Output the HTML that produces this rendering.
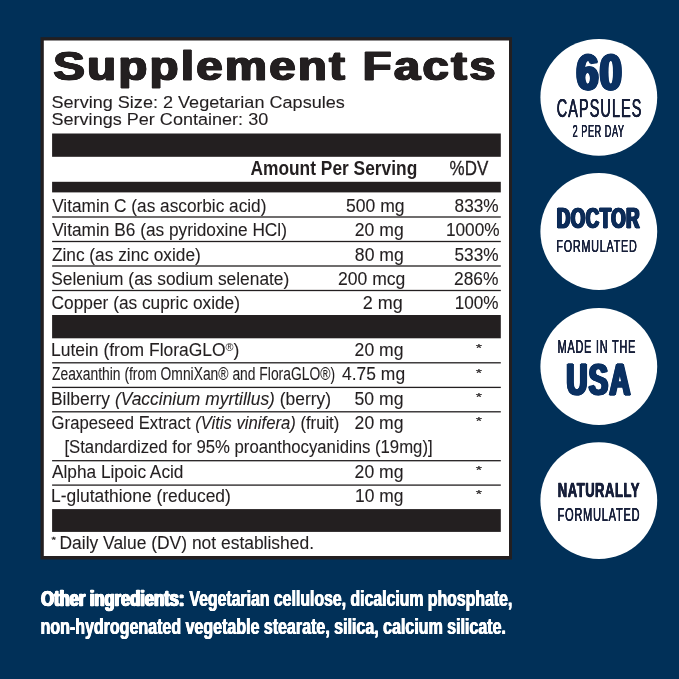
<!DOCTYPE html>
<html lang="en"><head><meta charset="utf-8"><title>Supplement Facts</title>
<style>
html,body{margin:0;padding:0}
.r{position:absolute}
.t{position:absolute;left:0;top:0;white-space:nowrap;line-height:1;margin:0;transform-origin:0 0}
.reg{font-size:.62em;vertical-align:.42em;line-height:0;-webkit-text-stroke:0}
i{font-style:italic}
body{width:679px;height:679px;overflow:hidden;background:#013058;position:relative;font-family:"Liberation Sans",Arial,Helvetica,sans-serif}
</style></head><body>
<svg class="r" style="left:0;top:0" width="679" height="679" viewBox="0 0 679 679">
<rect x="40.50" y="37.20" width="471.50" height="522.30" fill="#231f20"/>
<rect x="43.80" y="40.50" width="465.20" height="515.50" fill="#fff"/>
<rect x="52.10" y="133.50" width="448.70" height="23.30" fill="#231f20"/>
<rect x="52.10" y="181.80" width="448.70" height="10.60" fill="#231f20"/>
<rect x="52.10" y="315.00" width="448.70" height="23.30" fill="#231f20"/>
<rect x="52.10" y="509.10" width="448.70" height="22.80" fill="#231f20"/>
<rect x="52.10" y="216.35" width="448.70" height="1.30" fill="#231f20"/>
<rect x="52.10" y="240.85" width="448.70" height="1.30" fill="#231f20"/>
<rect x="52.10" y="265.35" width="448.70" height="1.30" fill="#231f20"/>
<rect x="52.10" y="289.85" width="448.70" height="1.30" fill="#231f20"/>
<rect x="52.10" y="362.15" width="448.70" height="1.30" fill="#231f20"/>
<rect x="52.10" y="386.75" width="448.70" height="1.30" fill="#231f20"/>
<rect x="52.10" y="411.15" width="448.70" height="1.30" fill="#231f20"/>
<rect x="52.10" y="460.05" width="448.70" height="1.30" fill="#231f20"/>
<rect x="52.10" y="484.45" width="448.70" height="1.30" fill="#231f20"/>
<circle cx="598.8" cy="97.3" r="58.4" fill="#fff"/>
<circle cx="598.8" cy="231.5" r="58.4" fill="#fff"/>
<circle cx="598.8" cy="366.5" r="58.4" fill="#fff"/>
<circle cx="598.8" cy="500.6" r="58.4" fill="#fff"/>
</svg>
<section aria-label="Supplement Facts panel">
<div class="t" style="font-size:41.13px;font-weight:bold;letter-spacing:2.06px;color:#231f20;-webkit-text-stroke:1.1px #231f20;transform:translate(53.32px,46.00px) scaleX(1.1483);text-shadow:0.32px 0 0 #231f20,-0.32px 0 0 #231f20,0.64px 0 0 #231f20,-0.64px 0 0 #231f20,0.96px 0 0 #231f20,-0.96px 0 0 #231f20;">Supplement Facts</div>
<div class="t" style="font-size:17.01px;color:#231f20;-webkit-text-stroke:0.1px #231f20;transform:translate(51.51px,94.00px) scaleX(1.0629);">Serving Size: 2 Vegetarian Capsules</div>
<div class="t" style="font-size:17.01px;color:#231f20;-webkit-text-stroke:0.1px #231f20;transform:translate(51.51px,111.00px) scaleX(1.0617);">Servings Per Container: 30</div>
<div class="t" style="font-size:20.20px;font-weight:bold;color:#231f20;transform:translate(250.42px,158.00px) scaleX(0.8598);">Amount Per Serving</div>
<div class="t" style="font-size:19.77px;color:#231f20;-webkit-text-stroke:0.3px #231f20;transform:translate(449.52px,159.00px) scaleX(0.8595);">%DV</div>
<div class="t" style="font-size:18.30px;color:#231f20;-webkit-text-stroke:0.1px #231f20;transform:translate(52.16px,197.00px) scaleX(0.9428);">Vitamin C (as ascorbic acid)</div>
<div class="t" style="font-size:18.30px;color:#231f20;-webkit-text-stroke:0.1px #231f20;transform:translate(345.98px,197.00px) scaleX(0.9602);">500 mg</div>
<div class="t" style="font-size:18.30px;color:#231f20;-webkit-text-stroke:0.1px #231f20;transform:translate(454.55px,197.00px) scaleX(0.9428);">833%</div>
<div class="t" style="font-size:18.30px;color:#231f20;-webkit-text-stroke:0.1px #231f20;transform:translate(52.16px,221.00px) scaleX(0.9444);">Vitamin B6 (as pyridoxine HCl)</div>
<div class="t" style="font-size:18.30px;color:#231f20;-webkit-text-stroke:0.1px #231f20;transform:translate(354.80px,221.00px) scaleX(0.9616);">20 mg</div>
<div class="t" style="font-size:18.30px;color:#231f20;-webkit-text-stroke:0.1px #231f20;transform:translate(445.91px,221.00px) scaleX(0.9423);">1000%</div>
<div class="t" style="font-size:18.30px;color:#231f20;-webkit-text-stroke:0.1px #231f20;transform:translate(51.91px,246.00px) scaleX(0.9452);">Zinc (as zinc oxide)</div>
<div class="t" style="font-size:18.30px;color:#231f20;-webkit-text-stroke:0.1px #231f20;transform:translate(354.84px,246.00px) scaleX(0.9627);">80 mg</div>
<div class="t" style="font-size:18.30px;color:#231f20;-webkit-text-stroke:0.1px #231f20;transform:translate(454.50px,246.00px) scaleX(0.9438);">533%</div>
<div class="t" style="font-size:18.30px;color:#231f20;-webkit-text-stroke:0.1px #231f20;transform:translate(51.30px,270.00px) scaleX(0.9481);">Selenium (as sodium selenate)</div>
<div class="t" style="font-size:18.30px;color:#231f20;-webkit-text-stroke:0.1px #231f20;transform:translate(338.00px,270.00px) scaleX(0.9598);">200 mcg</div>
<div class="t" style="font-size:18.30px;color:#231f20;-webkit-text-stroke:0.1px #231f20;transform:translate(454.01px,270.00px) scaleX(0.9508);">286%</div>
<div class="t" style="font-size:18.30px;color:#231f20;-webkit-text-stroke:0.1px #231f20;transform:translate(51.60px,294.00px) scaleX(0.9460);">Copper (as cupric oxide)</div>
<div class="t" style="font-size:18.30px;color:#231f20;-webkit-text-stroke:0.1px #231f20;transform:translate(362.78px,294.00px) scaleX(0.9847);">2 mg</div>
<div class="t" style="font-size:18.30px;color:#231f20;-webkit-text-stroke:0.1px #231f20;transform:translate(454.71px,294.00px) scaleX(0.9364);">100%</div>
<div class="t" style="font-size:18.30px;color:#231f20;-webkit-text-stroke:0.1px #231f20;transform:translate(51.00px,341.00px) scaleX(0.9548);">Lutein (from FloraGLO<span class="reg">®</span>)</div>
<div class="t" style="font-size:18.30px;color:#231f20;-webkit-text-stroke:0.1px #231f20;transform:translate(354.60px,341.00px) scaleX(0.9616);">20 mg</div>
<div class="t" style="font-size:18.30px;color:#231f20;-webkit-text-stroke:0.1px #231f20;transform:translate(51.99px,365.00px) scaleX(0.7579);">Zeaxanthin (from OmniXan® and FloraGLO®)</div>
<div class="t" style="font-size:18.30px;color:#231f20;-webkit-text-stroke:0.1px #231f20;transform:translate(342.03px,365.00px) scaleX(0.9545);">4.75 mg</div>
<div class="t" style="font-size:18.30px;color:#231f20;-webkit-text-stroke:0.1px #231f20;transform:translate(51.00px,390.00px) scaleX(0.9528);">Bilberry <i>(Vaccinium myrtillus)</i> (berry)</div>
<div class="t" style="font-size:18.30px;color:#231f20;-webkit-text-stroke:0.1px #231f20;transform:translate(354.57px,390.00px) scaleX(0.9634);">50 mg</div>
<div class="t" style="font-size:18.30px;color:#231f20;-webkit-text-stroke:0.1px #231f20;transform:translate(51.62px,414.00px) scaleX(0.9114);">Grapeseed Extract <i>(Vitis vinifera)</i> (fruit)</div>
<div class="t" style="font-size:18.30px;color:#231f20;-webkit-text-stroke:0.1px #231f20;transform:translate(354.60px,414.00px) scaleX(0.9616);">20 mg</div>
<div class="t" style="font-size:18.30px;color:#231f20;-webkit-text-stroke:0.1px #231f20;transform:translate(64.42px,438.00px) scaleX(0.9149);">[Standardized for 95% proanthocyanidins (19mg)]</div>
<div class="t" style="font-size:18.30px;color:#231f20;-webkit-text-stroke:0.1px #231f20;transform:translate(52.00px,463.00px) scaleX(0.9440);">Alpha Lipoic Acid</div>
<div class="t" style="font-size:18.30px;color:#231f20;-webkit-text-stroke:0.1px #231f20;transform:translate(354.60px,463.00px) scaleX(0.9616);">20 mg</div>
<div class="t" style="font-size:18.30px;color:#231f20;-webkit-text-stroke:0.1px #231f20;transform:translate(51.00px,487.00px) scaleX(0.9512);">L-glutathione (reduced)</div>
<div class="t" style="font-size:18.30px;color:#231f20;-webkit-text-stroke:0.1px #231f20;transform:translate(355.10px,487.00px) scaleX(0.9524);">10 mg</div>
<div class="t" style="font-size:11.50px;color:#231f20;-webkit-text-stroke:0.2px #231f20;transform:translate(475.84px,343.00px) scaleX(1.3948);">*</div>
<div class="t" style="font-size:11.50px;color:#231f20;-webkit-text-stroke:0.2px #231f20;transform:translate(475.84px,368.00px) scaleX(1.3948);">*</div>
<div class="t" style="font-size:11.50px;color:#231f20;-webkit-text-stroke:0.2px #231f20;transform:translate(475.84px,392.00px) scaleX(1.3948);">*</div>
<div class="t" style="font-size:11.50px;color:#231f20;-webkit-text-stroke:0.2px #231f20;transform:translate(475.84px,416.00px) scaleX(1.3948);">*</div>
<div class="t" style="font-size:11.50px;color:#231f20;-webkit-text-stroke:0.2px #231f20;transform:translate(475.84px,465.00px) scaleX(1.3948);">*</div>
<div class="t" style="font-size:11.50px;color:#231f20;-webkit-text-stroke:0.2px #231f20;transform:translate(475.84px,489.00px) scaleX(1.3948);">*</div>
<div class="t" style="font-size:7.50px;color:#231f20;-webkit-text-stroke:0.3px #231f20;transform:translate(51.44px,536.00px) scaleX(1.5135);">*</div>
<div class="t" style="font-size:18.30px;color:#231f20;-webkit-text-stroke:0.1px #231f20;transform:translate(59.50px,534.00px) scaleX(0.9536);">Daily Value (DV) not established.</div>
</section>
<section aria-label="Other ingredients">
<div class="t" style="font-size:21.51px;font-weight:bold;color:#fff;-webkit-text-stroke:0.7px #fff;transform:translate(41.20px,589.00px) scaleX(0.7679);text-shadow:0.55px 0 0 #fff,-0.55px 0 0 #fff,1.11px 0 0 #fff,-1.11px 0 0 #fff;">Other ingredients:</div>
<div class="t" style="font-size:21.80px;font-weight:bold;color:#fff;-webkit-text-stroke:0.1px #fff;transform:translate(189.45px,588.00px) scaleX(0.7262);text-shadow:0.52px 0 0 #fff,-0.52px 0 0 #fff;">Vegetarian cellulose, dicalcium phosphate,</div>
<div class="t" style="font-size:21.80px;font-weight:bold;color:#fff;-webkit-text-stroke:0.1px #fff;transform:translate(40.58px,616.00px) scaleX(0.7345);text-shadow:0.51px 0 0 #fff,-0.51px 0 0 #fff;">non-hydrogenated vegetable stearate, silica, calcium silicate.</div>
</section>
<section aria-label="Product badges">
<div class="t" style="font-size:49.42px;font-weight:bold;letter-spacing:1.48px;color:#0b3162;-webkit-text-stroke:2.0px #0b3162;transform:translate(576.48px,48.00px) scaleX(0.8028);text-shadow:0.42px 0 0 #0b3162,-0.42px 0 0 #0b3162,0.85px 0 0 #0b3162,-0.85px 0 0 #0b3162,1.27px 0 0 #0b3162,-1.27px 0 0 #0b3162,1.69px 0 0 #0b3162,-1.69px 0 0 #0b3162,2.12px 0 0 #0b3162,-2.12px 0 0 #0b3162;">60</div>
<div class="t" style="font-size:25.15px;letter-spacing:1.76px;color:#171f3a;-webkit-text-stroke:0.25px #171f3a;transform:translate(556.66px,96.00px) scaleX(0.5787);text-shadow:0.26px 0 0 #171f3a,-0.26px 0 0 #171f3a;">CAPSULES</div>
<div class="t" style="font-size:16.28px;letter-spacing:0.98px;color:#171f3a;-webkit-text-stroke:0.1px #171f3a;transform:translate(572.61px,123.00px) scaleX(0.5611);text-shadow:0.09px 0 0 #171f3a,-0.09px 0 0 #171f3a;">2 PER DAY</div>
<div class="t" style="font-size:28.78px;font-weight:bold;letter-spacing:0.86px;color:#0d2c58;-webkit-text-stroke:1.15px #0d2c58;transform:translate(556.90px,204.00px) scaleX(0.6434);text-shadow:0.54px 0 0 #0d2c58,-0.54px 0 0 #0d2c58,1.09px 0 0 #0d2c58,-1.09px 0 0 #0d2c58,1.63px 0 0 #0d2c58,-1.63px 0 0 #0d2c58;">DOCTOR</div>
<div class="t" style="font-size:17.30px;letter-spacing:1.21px;color:#171f3a;-webkit-text-stroke:0.15px #171f3a;transform:translate(556.37px,238.00px) scaleX(0.6248);text-shadow:0.12px 0 0 #171f3a,-0.12px 0 0 #171f3a;">FORMULATED</div>
<div class="t" style="font-size:17.88px;letter-spacing:1.25px;color:#171f3a;-webkit-text-stroke:0.15px #171f3a;transform:translate(557.56px,339.00px) scaleX(0.6111);text-shadow:0.12px 0 0 #171f3a,-0.12px 0 0 #171f3a;">MADE IN THE</div>
<div class="t" style="font-size:45.06px;font-weight:bold;letter-spacing:2.25px;color:#0b3162;-webkit-text-stroke:1.6px #0b3162;transform:translate(566.48px,357.00px) scaleX(0.6409);text-shadow:0.59px 0 0 #0b3162,-0.59px 0 0 #0b3162,1.17px 0 0 #0b3162,-1.17px 0 0 #0b3162,1.76px 0 0 #0b3162,-1.76px 0 0 #0b3162,2.34px 0 0 #0b3162,-2.34px 0 0 #0b3162;">USA</div>
<div class="t" style="font-size:20.06px;font-weight:bold;letter-spacing:0.80px;color:#171f3a;-webkit-text-stroke:0.5px #171f3a;transform:translate(557.82px,480.00px) scaleX(0.6496);text-shadow:0.38px 0 0 #171f3a,-0.38px 0 0 #171f3a;">NATURALLY</div>
<div class="t" style="font-size:18.90px;letter-spacing:1.32px;color:#171f3a;-webkit-text-stroke:0.15px #171f3a;transform:translate(557.55px,506.00px) scaleX(0.5832);text-shadow:0.13px 0 0 #171f3a,-0.13px 0 0 #171f3a;">FORMULATED</div>
</section>
</body></html>
